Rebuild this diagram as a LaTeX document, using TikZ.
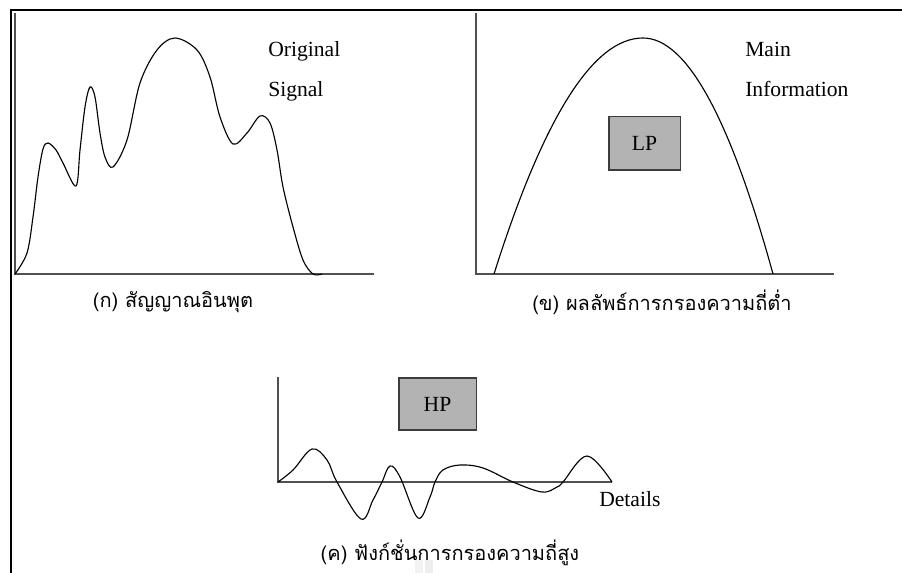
\documentclass[tikz,border=0pt]{standalone}
\usepackage{fontspec}
\setmainfont{Liberation Serif}
\newfontfamily\thaifont[Script=Thai]{Loma}
\usepackage{tikz}
\usetikzlibrary{positioning}
\definecolor{axc}{HTML}{505050}
\definecolor{boxg}{HTML}{B3B3B3}
\definecolor{boxd}{HTML}{3C3C3C}
\tikzset{
  crv/.style={line width=0.85pt,black,line join=round},
  axl/.style={line width=0.9pt,axc},
  fbox/.style={draw=boxd,line width=0.8pt,fill=boxg,font=\fontsize{16.2}{19}\selectfont,inner sep=0pt},
  lbl/.style={font=\fontsize{16.2}{19}\selectfont,inner sep=0pt,anchor=base west},
  capt/.style={font=\thaifont\fontsize{15}{18}\selectfont,inner sep=0pt}
}
\newcommand{\sigax}[4]{\draw[axl] (#1,#2)--(#1,#4)--(#3,#4);}

\begin{document}
\begin{tikzpicture}[x=0.75pt,y=-0.75pt]
\useasboundingbox (0,0) rectangle (902,573);
\draw[line width=1.6pt] (11,573)--(11,10)--(902,10);
\sigax{15}{13}{374}{274}
\sigax{476}{13}{834}{274}
\sigax{278}{377}{612}{482}
\draw[crv] plot[smooth,tension=0.55] coordinates {(15,274) (27,253) (33,217) (38,177) (43,149) (48,143)
  (56,150) (63,163) (76,186) (80,150) (85,107) (90,87) (95,97) (100,133) (105,157) (113,167)
  (127,140) (140,83) (157,50) (175,38) (197,50) (210,77) (220,117) (233,144) (247,133) (260,116)
  (270,123) (277,150) (283,187) (293,227) (303,260) (313,274) (322,274)};
\draw[crv] (494,274) .. controls (543.7,116.7) and (593.3,38) .. (643,38)
  .. controls (686.3,38) and (729.7,116.7) .. (773,274);
\draw[crv] plot[smooth,tension=0.6] coordinates {(278,482) (293,470) (312,449) (327,460) (337,482)
  (361,519) (373,500) (382,482) (390,466) (400,477) (418,518) (430,497) (435,482) (443,470)
  (460,465) (483,468) (513,482) (542,492) (557,487) (563,482) (587,456) (612,482)};
\node[fbox,minimum width=53.3pt,minimum height=39.8pt] (lp) at (644.5,143.5) {LP};
\node[fbox,minimum width=57.8pt,minimum height=39pt] (hp) at (437.5,404) {HP};
\node[lbl] (orig) at (268,57) {Original};
\node[lbl] (sig) at (268,97) {Signal};
\node[lbl] (mainl) at (745,57) {Main};
\node[lbl] (info) at (745,97) {Information};
\node[lbl] (det) at (599,506) {Details};
\node[capt] (capa) at (173,302) {(ก) สัญญาณอินพุต};
\node[capt] (capb) at (662,302) {(ข) ผลลัพธ์การกรองความถี่ต่ำ};
\node[capt] (capc) at (450,553) {(ค) ฟังก์ชั่นการกรองความถี่สูง};
\fill[gray!10] (415,560) rectangle (423,573);
\fill[gray!13] (425,560) rectangle (433,573);
\end{tikzpicture}
\end{document}
